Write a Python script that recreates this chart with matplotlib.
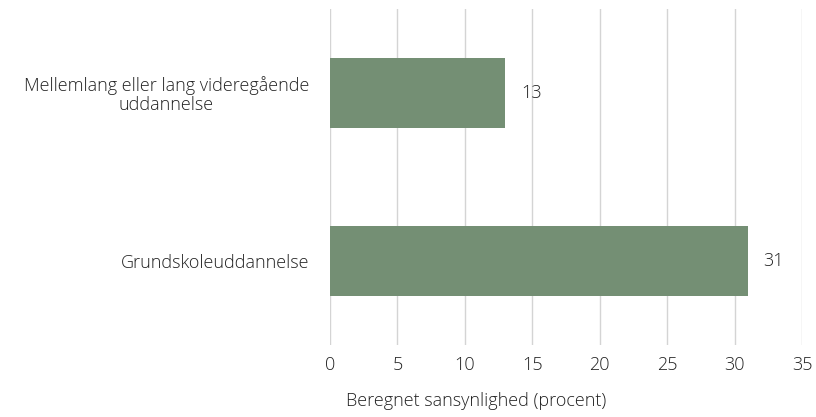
import matplotlib
matplotlib.use("Agg")
import matplotlib.pyplot as plt

# data
categories = ["Mellemlang eller lang videregående\nuddannelse", "Grundskoleuddannelse"]
values = [13, 31]
x_ticks = [0, 5, 10, 15, 20, 25, 30, 35]
x_label = "Beregnet sansynlighed (procent)"

bar_color = "#748f74"
text_color = "#222222"

plt.rcParams["font.family"] = ["Open Sans", "DejaVu Sans"]
plt.rcParams["font.weight"] = "light"

fig = plt.figure(figsize=(8.16, 4.17), dpi=100)
ax = fig.add_axes([330 / 816, 1 - 345 / 417, 472 / 816, 336 / 417])

y_pos = list(range(len(categories)))
ax.barh(y_pos, values, height=0.42, color=bar_color, zorder=3)

for y, v in zip(y_pos, values):
    ax.text(v + 1.15, y, f"{v}", va="center", ha="left", fontsize=13, color=text_color)

ax.set_xlim(0, 35)
ax.set_ylim(1.5, -0.5)
ax.set_xticks(x_ticks)
ax.set_yticks(y_pos)
ax.set_yticklabels(categories, fontsize=13, color=text_color, multialignment="center",
                   linespacing=1.05)
ax.tick_params(axis="x", labelsize=13, colors=text_color, length=0, pad=8)
ax.tick_params(axis="y", length=0, pad=15)

ax.grid(axis="x", color="#d4d4d4", linewidth=1.0, zorder=0)
ax.set_axisbelow(True)
for s in ax.spines.values():
    s.set_visible(False)

fig.text(476 / 816, 1 - 401 / 417, x_label, ha="center", va="center", fontsize=13, color=text_color)

fig.savefig("out.png", dpi=100)
